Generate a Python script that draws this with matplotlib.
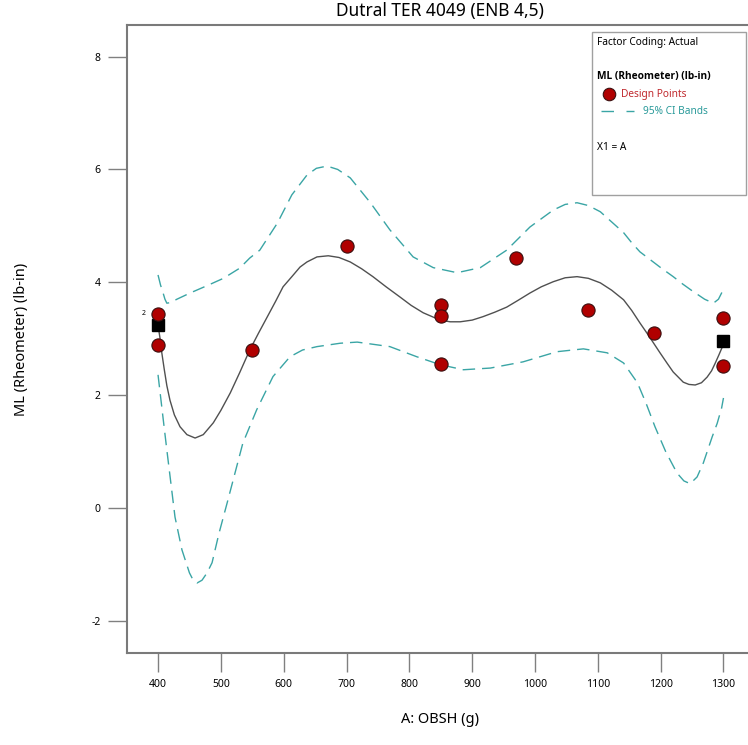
import numpy as np
import matplotlib
matplotlib.use('Agg')
import matplotlib.pyplot as plt
from matplotlib.patches import Rectangle
from matplotlib.lines import Line2D

plt.rcParams['font.family'] = ['Noto Sans', 'DejaVu Sans']
plt.rcParams['axes.unicode_minus'] = False

# Данные: точки плана
design_x = [400, 400, 550, 700, 850, 850, 850, 970, 1085, 1190, 1300, 1300]
design_y = [3.44, 2.89, 2.80, 4.65, 3.60, 3.40, 2.55, 4.43, 3.51, 3.10, 3.37, 2.52]

# прогнозные точки на концах (квадраты)
pred_x = [400, 1300]
pred_y = [3.24, 2.96]

# кривая модели
fit_x = [400, 403, 406, 410, 414, 419, 426, 435, 446, 459, 472, 488, 500, 515, 530,
         546, 560, 574, 587, 599, 613, 626, 637, 653, 671, 688, 706, 724, 742, 763,
         785, 803, 822, 849, 865, 881, 900, 917, 936, 955, 973, 992, 1010, 1029, 1048,
         1067, 1085, 1104, 1122, 1141, 1154, 1167, 1180, 1199, 1210, 1220, 1236, 1245,
         1255, 1265, 1274, 1281, 1287, 1293, 1298, 1300]
fit_y = [3.24, 3.02, 2.75, 2.45, 2.17, 1.91, 1.65, 1.44, 1.30, 1.24, 1.30, 1.51, 1.73, 2.04, 2.40,
         2.80, 3.10, 3.39, 3.66, 3.92, 4.10, 4.27, 4.36, 4.45, 4.47, 4.44, 4.36, 4.24, 4.10, 3.92,
         3.74, 3.59, 3.46, 3.33, 3.30, 3.30, 3.33, 3.39, 3.47, 3.56, 3.68, 3.81, 3.92, 4.01, 4.08,
         4.10, 4.07, 3.99, 3.86, 3.69, 3.50, 3.28, 3.07, 2.75, 2.57, 2.41, 2.23, 2.19,
         2.18, 2.22, 2.32, 2.43, 2.57, 2.72, 2.85, 2.96]

# 95% доверительные полосы
upper_x = [400, 404, 407, 411, 414, 420, 430, 451, 480, 504, 530, 546, 562, 590, 613,
           637, 652, 669, 686, 706, 738, 769, 806, 838, 876, 913, 955, 992, 1029, 1048,
           1067, 1085, 1104, 1141, 1154, 1167, 1180, 1200, 1220, 1235, 1250, 1270, 1284,
           1292, 1297, 1300]
upper_y = [4.13, 3.95, 3.85, 3.70, 3.63, 3.64, 3.70, 3.81, 3.95, 4.07, 4.25, 4.43, 4.57, 5.05, 5.55,
           5.90, 6.02, 6.06, 6.00, 5.85, 5.41, 4.93, 4.45, 4.26, 4.17, 4.26, 4.57, 4.98, 5.28, 5.38,
           5.41, 5.36, 5.25, 4.88, 4.70, 4.54, 4.43, 4.26, 4.10, 3.97, 3.85, 3.70, 3.63,
           3.70, 3.81, 3.88]

lower_x = [400, 409, 414, 427, 438, 450, 456, 462, 470, 478, 486, 497, 510, 535, 557,
           583, 610, 630, 653, 690, 717, 769, 812, 849, 886, 929, 981, 1035, 1077, 1115,
           1141, 1163, 1177, 1191, 1208, 1226, 1237, 1247, 1258, 1268, 1282, 1290, 1297, 1300]
lower_y = [2.36, 1.50, 1.03, -0.16, -0.74, -1.15, -1.28, -1.33, -1.28, -1.15, -0.97, -0.45, 0.09, 1.15, 1.74,
           2.33, 2.68, 2.80, 2.86, 2.92, 2.94, 2.86, 2.68, 2.54, 2.45, 2.48, 2.59, 2.77, 2.82, 2.75,
           2.57, 2.22, 1.85, 1.44, 1.00, 0.62, 0.48, 0.43, 0.55, 0.80, 1.26, 1.50, 1.77, 1.95]

x_ticks = [400, 500, 600, 700, 800, 900, 1000, 1100, 1200, 1300]
y_ticks = [-2, 0, 2, 4, 6, 8]

W, H = 748, 745
fig = plt.figure(figsize=(W / 100, H / 100), dpi=100)
ax = fig.add_axes([127 / W, (H - 653) / H, (753 - 127) / W, (653 - 25) / H])

band_col = '#3aa5a5'
ax.plot(upper_x, upper_y, color=band_col, lw=1.0, dashes=(9, 5), zorder=2)
ax.plot(lower_x, lower_y, color=band_col, lw=1.0, dashes=(9, 5), zorder=2)
ax.plot(fit_x, fit_y, color='#505050', lw=1.0, zorder=2)

ax.plot(pred_x, pred_y, 's', color='black', ms=9, zorder=3)
ax.plot(design_x, design_y, 'o', color='#b00000', mec='#3a1010', mew=0.8, ms=9.5, zorder=4)
ax.annotate('2', (400, 3.44), xytext=(-10, 0), textcoords='offset points',
            fontsize=5, fontweight='bold', ha='center', va='center')

ax.set_xlim(350.6, 1347)
ax.set_ylim(-2.57, 8.56)
ax.set_xticks(x_ticks)
ax.set_yticks(y_ticks)
ax.tick_params(direction='out', length=14, width=1, color='#808080', labelsize=7.5, pad=5)

for s in ['top', 'bottom', 'left', 'right']:
    ax.spines[s].set_color('#7a7a7a')
    ax.spines[s].set_linewidth(1.5)

ax.set_xlabel('A: OBSH (g)', fontsize=10.5)
ax.set_ylabel('ML (Rheometer) (lb-in)', fontsize=10.5)
ax.xaxis.set_label_coords((440 - 127) / 626, (653 - 712) / 628)
ax.yaxis.set_label_coords((29 - 127) / 626, 0.5)

fig.text(440 / W, 1 - 11 / H, 'Dutral TER 4049 (ENB 4,5)', fontsize=12.5, ha='center', va='center')

# Легенда справа вверху
fig.patches.append(Rectangle((592 / W, 1 - 195 / H), (746 - 592) / W, (195 - 32) / H,
                             transform=fig.transFigure, fill=True, facecolor='white',
                             edgecolor='#a0a0a0', lw=1, zorder=5))
fig.text(597 / W, 1 - 43 / H, 'Factor Coding: Actual', fontsize=7.3, va='center', zorder=6)
fig.text(597 / W, 1 - 77 / H, 'ML (Rheometer) (lb-in)', fontsize=7.3, fontweight='bold',
         family=['Open Sans', 'DejaVu Sans'], va='center', zorder=6)
fig.lines.append(Line2D([609 / W], [1 - 94 / H], marker='o', color='#b00000', mec='#3a1010',
                        mew=0.8, ms=9, transform=fig.transFigure, zorder=6))
fig.text(621 / W, 1 - 94 / H, 'Design Points', fontsize=7.3, color='#c0282d', va='center', zorder=6)
fig.lines.append(Line2D([601 / W, 634 / W], [1 - 111 / H, 1 - 111 / H], color=band_col, lw=1,
                        dashes=(9, 9), transform=fig.transFigure, zorder=6))
fig.text(643 / W, 1 - 111 / H, '95% CI Bands', fontsize=7.3, color='#2a9a9a', va='center', zorder=6)
fig.text(597 / W, 1 - 147 / H, 'X1 = A', fontsize=7.3, va='center', zorder=6)

fig.savefig('out.png', dpi=100)
